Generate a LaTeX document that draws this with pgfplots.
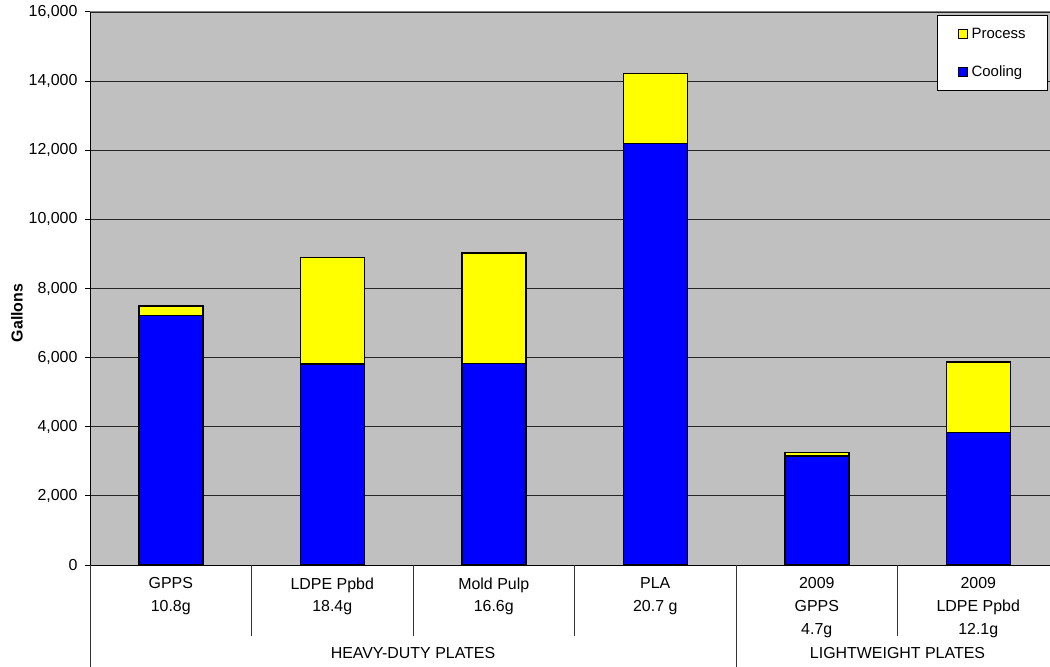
\documentclass[border=0pt]{standalone}
\usepackage{pgfplots}
\pgfplotsset{compat=1.18}
\usepackage{fontspec}
\setmainfont{Liberation Sans}
\definecolor{plotbg}{RGB}{192,192,192}
\definecolor{barblue}{RGB}{0,0,255}
\definecolor{baryellow}{RGB}{255,255,0}
\definecolor{bordergray}{RGB}{128,128,128}
\begin{document}
\begin{tikzpicture}
\begin{axis}[
  at={(90bp,102bp)}, anchor=south west,
  scale only axis, width=969bp, height=553bp,
  xmin=-0.5, xmax=5.5, ymin=0, ymax=16000,
  axis background/.style={fill=plotbg},
  axis x line*=bottom, axis y line*=left,
  axis line style={black, line width=1bp},
  ybar stacked, bar width=64bp,
  xtick={0,1,2,3,4,5},
  xticklabels={{GPPS\\10.8g},{LDPE Ppbd\\18.4g},{Mold Pulp\\16.6g},{PLA\\20.7 g},{2009\\GPPS\\4.7g},{2009\\LDPE Ppbd\\12.1g}},
  x tick style={draw=none},
  xticklabel style={align=center, anchor=north, yshift=-4bp, font=\fontsize{16}{23}\selectfont},
  ytick={0,2000,...,16000},
  ytick pos=left, tick align=outside,
  major tick length=5bp,
  y tick style={black, line width=1bp},
  scaled y ticks=false,
  yticklabel style={xshift=-4bp, font=\fontsize{16}{19}\selectfont, /pgf/number format/.cd, fixed, 1000 sep={,}, assume math mode=true},
  ymajorgrids,
  major grid style={black!85, line width=0.8bp},
  ylabel={Gallons},
  ylabel style={at={(axis description cs:-0.07534,0.4557)}, anchor=center, font=\bfseries\fontsize{16}{19}\selectfont},
  clip=false,
  reverse legend,
  legend image code/.code={\draw[#1, line width=0.75bp] (0bp,-4.5bp) rectangle (9bp,4.5bp);},
  legend style={at={(axis description cs:0.9886,0.9946)}, anchor=north east, draw=black, fill=white, line width=0.75bp, font=\fontsize{15}{18}\selectfont, inner xsep=20bp, inner ysep=10.5bp, row sep=22bp, column sep=2bp},
  legend cell align=left,
]
\addplot[fill=barblue, draw=black, line width=1.5bp] coordinates {(0,7220) (1,5815) (2,5830) (3,12195) (4,3153) (5,3827)};
\addlegendentry{Cooling}
\addplot[fill=baryellow, draw=black, line width=1.5bp] coordinates {(0,270) (1,3085) (2,3195) (3,2025) (4,107) (5,2045)};
\addlegendentry{Process}
\draw[bordergray, line width=1bp] (rel axis cs:0,1) -- (rel axis cs:1,1);
\draw[black!80, line width=1bp] (axis cs:-0.5,0) -- ([yshift=-102bp]axis cs:-0.5,0);
\draw[black!80, line width=1bp] (axis cs:0.5,0) -- ([yshift=-71bp]axis cs:0.5,0);
\draw[black!80, line width=1bp] (axis cs:1.5,0) -- ([yshift=-71bp]axis cs:1.5,0);
\draw[black!80, line width=1bp] (axis cs:2.5,0) -- ([yshift=-71bp]axis cs:2.5,0);
\draw[black!80, line width=1bp] (axis cs:3.5,0) -- ([yshift=-102bp]axis cs:3.5,0);
\draw[black!80, line width=1bp] (axis cs:4.5,0) -- ([yshift=-71bp]axis cs:4.5,0);
\node[anchor=base, font=\fontsize{16}{19}\selectfont] at ([yshift=-93.7bp]axis cs:1.5,0) {HEAVY-DUTY PLATES};
\node[anchor=base, font=\fontsize{16}{19}\selectfont] at ([yshift=-93.7bp]axis cs:4.5,0) {LIGHTWEIGHT PLATES};
\end{axis}
\pgfresetboundingbox
\useasboundingbox (0,0) rectangle (1050bp,667bp);
\end{tikzpicture}
\end{document}
